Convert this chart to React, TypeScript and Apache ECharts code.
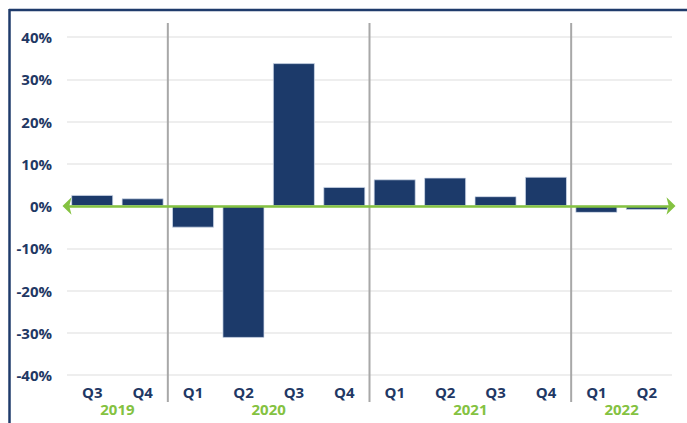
import React, { useEffect, useRef } from 'react';
import * as echarts from 'echarts';

const years = ['2019', '2020', '2021', '2022'];
const quartersPerYear = [2, 4, 4, 2];
const quarters = ['Q3', 'Q4', 'Q1', 'Q2', 'Q3', 'Q4', 'Q1', 'Q2', 'Q3', 'Q4', 'Q1', 'Q2'];
const growth = [2.6, 1.8, -5.1, -31.2, 33.8, 4.5, 6.3, 6.7, 2.3, 6.9, -1.6, -0.9];
const yMin = -40;
const yMax = 40;
const yStep = 10;

const NAVY = '#1c3a6a';
const LABEL = '#1f3864';
const GREEN = '#84c241';
const FONT = '"Open Sans", "Noto Sans", sans-serif';

export default function App() {
  const ref = useRef<HTMLDivElement>(null);

  useEffect(() => {
    if (!ref.current) return;
    const chart = echarts.init(ref.current, undefined, { renderer: 'svg' });

    // category ids (unique) built from years and quarters
    const yearOfQuarter: string[] = [];
    years.forEach((y, i) => {
      for (let k = 0; k < quartersPerYear[i]; k++) yearOfQuarter.push(y);
    });
    const cats = quarters.map((q, i) => `${yearOfQuarter[i]} ${q}`);

    // half-step axis for centred year labels
    const halfSlots: string[] = new Array(quarters.length * 2 + 1).fill('');
    let start = 0;
    years.forEach((y, i) => {
      halfSlots[2 * start + quartersPerYear[i]] = y;
      start += quartersPerYear[i];
    });

    chart.setOption({
      animation: false,
      grid: { left: 67, right: 15, top: 37, bottom: 48, containLabel: false },
      xAxis: [
        {
          type: 'category',
          data: cats,
          position: 'bottom',
          axisLine: { show: false, onZero: false },
          axisTick: { show: false },
          splitLine: { show: false },
          axisLabel: {
            interval: 0,
            margin: 9,
            color: LABEL,
            fontFamily: FONT,
            fontWeight: 'bold',
            fontSize: 15,
            formatter: (v: string) => v.split(' ')[1],
          },
        },
        {
          type: 'category',
          data: halfSlots,
          boundaryGap: false,
          position: 'bottom',
          axisLine: { show: false, onZero: false },
          axisTick: { show: false },
          splitLine: { show: false },
          axisLabel: {
            interval: 0,
            margin: 26,
            color: GREEN,
            fontFamily: FONT,
            fontWeight: 'bold',
            fontSize: 15,
          },
        },
        {
          type: 'category',
          data: cats,
          position: 'bottom',
          z: 5,
          axisLine: {
            show: true,
            onZero: true,
            lineStyle: { color: GREEN, width: 2.5 },
            symbol: ['arrow', 'arrow'],
            symbolSize: [13, 9],
            symbolOffset: [-4.5, 3.5],
          },
          axisTick: { show: false },
          axisLabel: { show: false },
          splitLine: { show: false },
        },
      ],
      yAxis: {
        type: 'value',
        min: yMin,
        max: yMax,
        interval: yStep,
        axisLine: { show: false },
        axisTick: { show: false },
        splitLine: { show: true, lineStyle: { color: '#e8e8e8', width: 1.5 } },
        axisLabel: {
          margin: 15,
          color: LABEL,
          fontFamily: FONT,
          fontWeight: 'bold',
          fontSize: 15,
          formatter: '{value}%',
        },
      },
      series: [
        {
          type: 'bar',
          xAxisIndex: 0,
          data: growth,
          barWidth: '83%',
          itemStyle: { color: NAVY, borderColor: 'rgba(210,220,235,0.9)', borderWidth: 0.8 },
        },
      ],
    });

    // separators between years, placed through the axes' scales
    const xPix = (i: number) => chart.convertToPixel({ xAxisIndex: 0 }, i) as number;
    const yTop = chart.convertToPixel({ yAxisIndex: 0 }, 43.3) as number;
    const yBot = chart.convertToPixel({ yAxisIndex: 0 }, -46.4) as number;
    const graphics: any[] = [];
    let acc = 0;
    for (let i = 0; i < years.length - 1; i++) {
      acc += quartersPerYear[i];
      const x = (xPix(acc - 1) + xPix(acc)) / 2;
      graphics.push({
        type: 'line',
        z: 1,
        shape: { x1: x, y1: yTop, x2: x, y2: yBot },
        style: { stroke: '#a8a8a8', lineWidth: 2 },
      });
    }
    // frame
    graphics.push({
      type: 'line',
      z: 10,
      shape: { x1: 9, y1: 10, x2: 687, y2: 10 },
      style: { stroke: '#1f3b6b', lineWidth: 2.5 },
    });
    graphics.push({
      type: 'line',
      z: 10,
      shape: { x1: 9.5, y1: 9, x2: 9.5, y2: 423 },
      style: { stroke: '#1f3b6b', lineWidth: 2.5 },
    });
    chart.setOption({ graphic: graphics });

    return () => chart.dispose();
  }, []);

  return (
    <div
      ref={ref}
      style={{ position: 'absolute', left: 0, top: 0, width: 687, height: 423, background: '#fff' }}
    />
  );
}
